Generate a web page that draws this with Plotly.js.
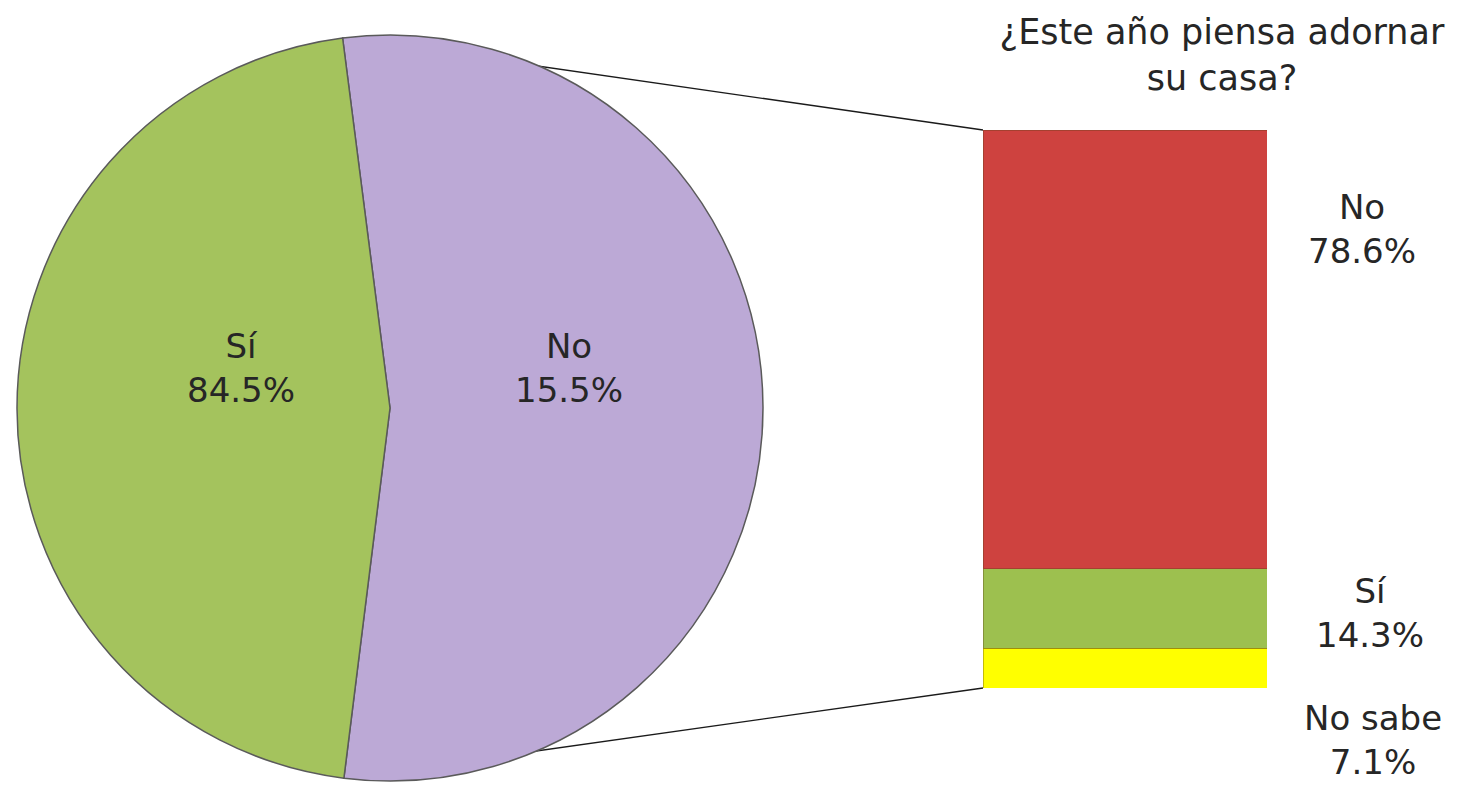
<!DOCTYPE html>
<html>
<head>
<meta charset="utf-8">
<script src="https://cdn.plot.ly/plotly-3.0.1.min.js"></script>
<style>html,body{margin:0;padding:0;background:#fff;}#chart{width:1459px;height:785px;}</style>
</head>
<body>
<div id="chart"></div>
<script>
// Pie (left): labels, slice sizes as drawn in the picture, and printed percentages
var pieLabels = ["No", "Sí"];
var pieSliceSizes = [54, 46];
var pieTextPct = ["15.5%", "84.5%"];
var pieColors = ["#BCA9D6", "#A4C35D"];

// Bar (right): breakdown of the "No" slice
var barLabels = ["No", "Sí", "No sabe"];
var barValues = [78.6, 14.3, 7.1];
var barColors = ["#CE423F", "#9DC04F", "#FFFF00"];

var titleText = "¿Este año piensa adornar<br>su casa?";

var W = 1459, H = 785;
var pieDomX = [17 / W, 763 / W];
var pieDomY = [(H - 781) / H, (H - 35) / H];
var pieRotation = -7.3;
var barDomX = [983 / W, 1267 / W];
var barDomY = [(H - 688) / H, (H - 130) / H];

var fontFam = "DejaVu Sans, Verdana, sans-serif";

var traces = [{
  type: "pie",
  labels: pieLabels,
  values: pieSliceSizes,
  sort: false,
  direction: "counterclockwise",
  rotation: pieRotation,
  textinfo: "none",
  hoverinfo: "label",
  marker: {colors: pieColors, line: {color: "#5a5a5a", width: 1.5}},
  domain: {x: pieDomX, y: pieDomY},
  showlegend: false
}];
// stacked bar: bottom segment first
for (var i = barLabels.length - 1; i >= 0; i--) {
  traces.push({
    type: "bar",
    x: [0],
    y: [barValues[i]],
    name: barLabels[i],
    width: 1,
    marker: {color: barColors[i], line: {color: "rgba(90,60,20,0.35)", width: 1}},
    hoverinfo: "name+y",
    showlegend: false,
    xaxis: "x", yaxis: "y"
  });
}

// connector lines from the pie's "No" slice edges to the bar corners
var cx = (pieDomX[0] + pieDomX[1]) / 2 * W;
var cy = H - (pieDomY[0] + pieDomY[1]) / 2 * H;
var r = Math.min((pieDomX[1] - pieDomX[0]) * W, (pieDomY[1] - pieDomY[0]) * H) / 2;
var totalSlices = pieSliceSizes.reduce(function(a, b){return a + b;}, 0);
var a1 = pieRotation * Math.PI / 180;
var a2 = a1 + 2 * Math.PI * pieSliceSizes[0] / totalSlices;
function ptPaper(a) {
  var px = cx + r * Math.sin(a), py = cy - r * Math.cos(a);
  return [px / W, 1 - py / H];
}
var p1 = ptPaper(a1), p2 = ptPaper(a2);
var shapes = [
  {type: "line", layer: "below", xref: "paper", yref: "paper", x0: p1[0], y0: p1[1], x1: barDomX[0], y1: barDomY[1], line: {color: "#1a1a1a", width: 1.3}},
  {type: "line", layer: "below", xref: "paper", yref: "paper", x0: p2[0], y0: p2[1], x1: barDomX[0], y1: barDomY[0], line: {color: "#1a1a1a", width: 1.3}}
];

var labFont = {family: fontFam, size: 34, color: "#262626"};
var annotations = [];
var piePos = [[569, 368], [241, 368]];
for (var k = 0; k < pieLabels.length; k++) {
  annotations.push({xref: "paper", yref: "paper", x: piePos[k][0] / W, y: 1 - piePos[k][1] / H,
    text: pieLabels[k] + "<br>" + pieTextPct[k], showarrow: false, font: labFont,
    xanchor: "center", yanchor: "middle", align: "center"});
}
var barPos = [[1362, 229], [1370, 613], [1373, 740]];
for (var j = 0; j < barLabels.length; j++) {
  annotations.push({xref: "paper", yref: "paper", x: barPos[j][0] / W, y: 1 - barPos[j][1] / H,
    text: barLabels[j] + "<br>" + barValues[j].toFixed(1) + "%", showarrow: false, font: labFont,
    xanchor: "center", yanchor: "middle", align: "center"});
}

var layout = {
  width: W, height: H,
  margin: {l: 0, r: 0, t: 0, b: 0},
  paper_bgcolor: "#ffffff", plot_bgcolor: "rgba(0,0,0,0)",
  barmode: "stack",
  title: {text: titleText, x: 1222 / W, y: 1 - 44 / H, xref: "paper", yref: "paper",
    xanchor: "center", yanchor: "middle", font: {family: fontFam, size: 35, color: "#262626"}},
  xaxis: {domain: barDomX, range: [-0.5, 0.5], visible: false, fixedrange: true},
  yaxis: {domain: barDomY, range: [0, 100], visible: false, fixedrange: true},
  shapes: shapes,
  annotations: annotations,
  font: {family: fontFam}
};

Plotly.newPlot("chart", traces, layout, {displayModeBar: false, staticPlot: true});
</script>
</body>
</html>
